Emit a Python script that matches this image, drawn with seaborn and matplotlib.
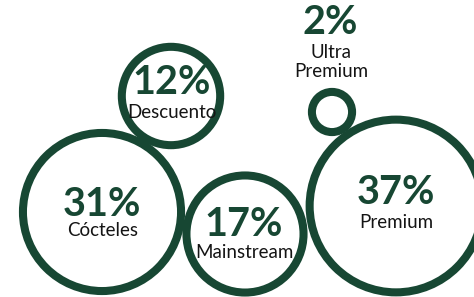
import matplotlib
matplotlib.use("Agg")
import matplotlib.pyplot as plt
import seaborn as sns
import pandas as pd

# segment shares (%)
segments = ["Cócteles", "Descuento", "Mainstream", "Ultra\nPremium", "Premium"]
shares = [31, 12, 17, 2, 37]
share_labels = ["31%", "12%", "17%", "2%", "37%"]

# bubble layout (pixel coordinates, y downwards)
bubble_x = [102, 171, 245, 332, 396]
bubble_y = [212, 96, 234, 112, 206]

GREEN = "#174733"
TEXT = "#141414"

sns.set_style("white")
plt.rcParams["font.family"] = ["Lato", "DejaVu Sans"]

df = pd.DataFrame({"segment": segments, "share": shares,
                   "x": bubble_x, "y": bubble_y})

fig = plt.figure(figsize=(4.74, 2.97), dpi=100)
ax = fig.add_axes([0, 0, 1, 1])

k = 418  # marker area (pt^2) per percentage point
sns.scatterplot(data=df, x="x", y="y", size="share",
                sizes=(min(shares) * k, max(shares) * k),
                size_norm=(min(shares), max(shares)),
                color="white", edgecolor=GREEN, linewidth=5.8,
                legend=False, ax=ax, zorder=2)

ax.set_xlim(0, 474)
ax.set_ylim(297, 0)
ax.axis("off")

# label positions: (pct_x, pct_y, name_x, name_y)
label_pos = [
    (102, 204, 103, 231),
    (172, 83, 172, 113),
    (244, 224, 244, 252),
    (330, 23, 331, 62),
    (396, 193, 396, 222),
]

for seg, lab, (px, py, nx, ny) in zip(segments, share_labels, label_pos):
    ax.text(px, py, lab, color=GREEN, fontsize=28.5, fontweight="bold",
            ha="center", va="center", zorder=3)
    ax.text(nx, ny, seg, color=TEXT, fontsize=13.5, ha="center", va="center",
            linespacing=1.1, zorder=3)

plt.savefig("out.png", dpi=100)
